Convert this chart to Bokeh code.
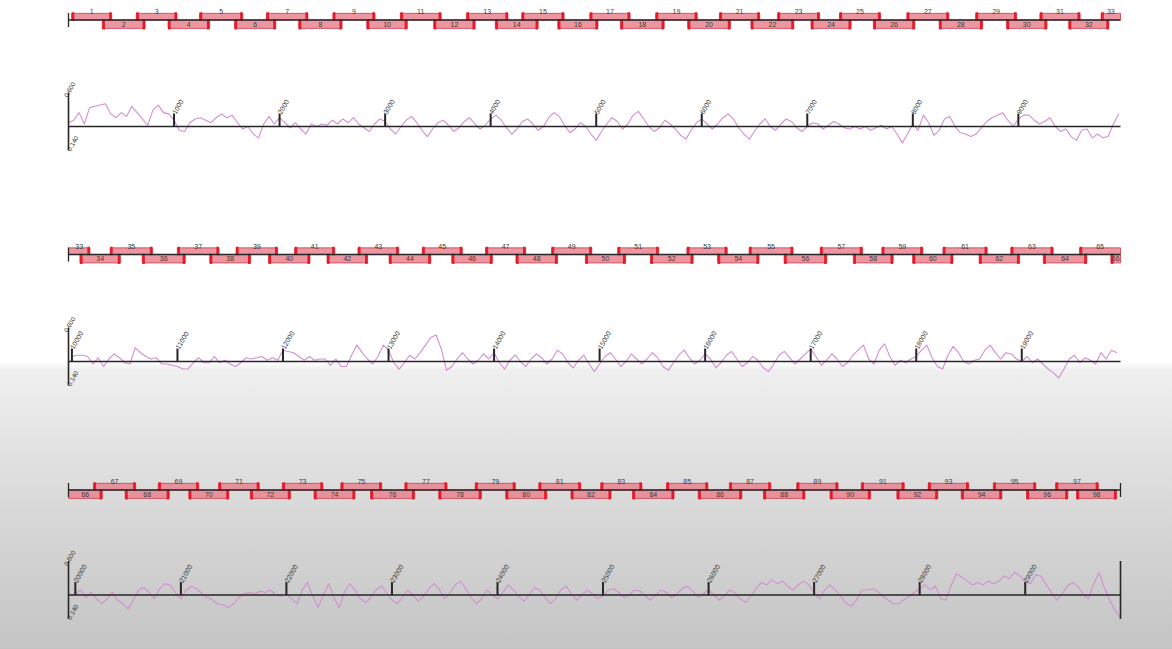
import math
from bokeh.plotting import figure
from bokeh.models import Range1d
from bokeh.core.properties import value
from bokeh.embed import file_html
from bokeh.resources import INLINE

# ---------------- data ----------------
GENOME_LENGTH = 29903
N_ROWS = 3
AMPLICON_ID = list(range(1, 99))
AMPLICON_START = [30, 320, 642, 943, 1242, 1573, 1875, 2181, 2505, 2826,
                  3144, 3460, 3771, 4044, 4294, 4636, 4939, 5230, 5563, 5867,
                  6167, 6466, 6718, 7035, 7305, 7626, 7943, 8249, 8595, 8888,
                  9204, 9477, 9784, 10076, 10362, 10666, 10999, 11306, 11555, 11863,
                  12110, 12417, 12710, 13005, 13319, 13599, 13919, 14207, 14545, 14865,
                  15171, 15481, 15827, 16118, 16416, 16748, 17090, 17404, 17674, 17966,
                  18253, 18596, 18896, 19204, 19548, 19844, 20172, 20472, 20786, 21075,
                  21357, 21658, 21961, 22262, 22516, 22797, 23122, 23443, 23789, 24078,
                  24391, 24696, 24978, 25279, 25601, 25902, 26197, 26520, 26835, 27151,
                  27447, 27784, 28081, 28394, 28698, 29012, 29288, 29486]
AMPLICON_END = [410, 726, 1028, 1337, 1651, 1964, 2269, 2592, 2904, 3210,
                3531, 3853, 4164, 4450, 4696, 5017, 5321, 5644, 5957, 6272,
                6550, 6873, 7117, 7415, 7694, 8019, 8341, 8661, 8983, 9271,
                9585, 9858, 10171, 10459, 10763, 11074, 11394, 11693, 11949, 12256,
                12490, 12802, 13096, 13400, 13699, 13984, 14299, 14601, 14926, 15246,
                15560, 15886, 16209, 16510, 16833, 17152, 17490, 17781, 18062, 18348,
                18672, 18979, 19297, 19616, 19939, 20255, 20572, 20890, 21169, 21455,
                21743, 22038, 22346, 22650, 22903, 23214, 23522, 23847, 24169, 24467,
                24789, 25076, 25369, 25673, 25994, 26315, 26590, 26913, 27227, 27534,
                27854, 28172, 28464, 28779, 29101, 29404, 29693, 29866]
PRIMER_LENGTH = 25
POSITION_TICKS = list(range(1000, 30000, 1000))
GC_AXIS_TOP, GC_AXIS_BOTTOM = 0.60, 0.14
GC_AXIS_TOP_LABEL, GC_AXIS_BOTTOM_LABEL = "0.600", "0.140"
GC_BASELINE = 0.33
GC_STEP = 50
GC_VALUES = [
    # row 1: 0 - 9950
    0.36, 0.38, 0.44, 0.35, 0.48, 0.49, 0.50, 0.51, 0.43, 0.40,
    0.44, 0.41, 0.49, 0.44, 0.39, 0.34, 0.46, 0.50, 0.44, 0.43,
    0.38, 0.30, 0.29, 0.36, 0.39, 0.40, 0.38, 0.36, 0.40, 0.43,
    0.40, 0.42, 0.36, 0.31, 0.33, 0.27, 0.24, 0.35, 0.41, 0.35,
    0.40, 0.36, 0.32, 0.36, 0.31, 0.27, 0.35, 0.33, 0.35, 0.34,
    0.38, 0.35, 0.39, 0.36, 0.40, 0.35,
    0.32, 0.29, 0.35, 0.39, 0.37, 0.31, 0.27, 0.33, 0.38, 0.41,
    0.36, 0.30, 0.25, 0.31, 0.36, 0.38, 0.34, 0.29, 0.32, 0.37,
    0.40, 0.35, 0.31, 0.34, 0.39, 0.42, 0.38, 0.32, 0.27, 0.31,
    0.37, 0.39, 0.35, 0.30, 0.33, 0.40, 0.44, 0.41, 0.34, 0.28,
    0.31, 0.36, 0.33, 0.27, 0.22, 0.29, 0.35, 0.40, 0.37, 0.31,
    0.35, 0.42, 0.45, 0.39, 0.33, 0.29, 0.32, 0.38, 0.35, 0.31,
    0.26, 0.23, 0.30, 0.36, 0.39, 0.35, 0.31, 0.35, 0.40, 0.43,
    0.39, 0.32, 0.27, 0.23, 0.29, 0.35, 0.39, 0.33, 0.30, 0.35,
    0.39, 0.37, 0.32, 0.29, 0.33, 0.36, 0.35, 0.31, 0.34, 0.37,
    0.35, 0.32, 0.31, 0.33,
    0.31, 0.33, 0.30, 0.32, 0.34, 0.31, 0.33, 0.27, 0.20, 0.27,
    0.35, 0.30, 0.42, 0.36, 0.26, 0.30, 0.39, 0.41, 0.33, 0.28,
    0.27, 0.25, 0.27, 0.32, 0.37, 0.40, 0.42, 0.44, 0.38, 0.33,
    0.39, 0.42, 0.42, 0.38, 0.35, 0.37, 0.40, 0.33, 0.29, 0.31,
    0.25, 0.22, 0.30, 0.31, 0.24, 0.27, 0.24, 0.25, 0.35, 0.43,
    # row 2: 10000 - 19900
    0.37, 0.38, 0.38, 0.37, 0.31, 0.36, 0.29, 0.35, 0.39, 0.36,
    0.32, 0.31, 0.44, 0.40, 0.37, 0.35, 0.36, 0.31, 0.31, 0.30,
    0.29, 0.27, 0.27, 0.32, 0.36, 0.32, 0.32, 0.37, 0.32, 0.34,
    0.31, 0.29, 0.32, 0.36, 0.35, 0.36, 0.37, 0.34, 0.36, 0.34,
    0.42, 0.41, 0.40, 0.37, 0.34, 0.37, 0.34, 0.35, 0.35, 0.30,
    0.35, 0.29, 0.29, 0.38, 0.46,
    0.40, 0.35, 0.31, 0.37, 0.46, 0.42, 0.32, 0.27, 0.32, 0.38,
    0.35, 0.40, 0.46, 0.52, 0.54, 0.43, 0.26, 0.29, 0.35, 0.40,
    0.35, 0.31, 0.34, 0.39, 0.35, 0.40, 0.32, 0.27, 0.34, 0.38,
    0.33, 0.29, 0.35, 0.39, 0.36, 0.31, 0.35, 0.42, 0.39, 0.32,
    0.28, 0.34, 0.38, 0.31, 0.25, 0.31, 0.37, 0.40, 0.35, 0.29,
    0.33, 0.39, 0.35, 0.31, 0.35, 0.40, 0.36, 0.29, 0.26, 0.32,
    0.38, 0.42, 0.36, 0.31, 0.34, 0.39, 0.35, 0.28, 0.32, 0.38,
    0.41, 0.35, 0.29, 0.32, 0.37, 0.34, 0.28, 0.25, 0.31, 0.38,
    0.41, 0.36, 0.31, 0.35, 0.39, 0.43, 0.37, 0.30, 0.34, 0.39,
    0.35, 0.29, 0.32, 0.38, 0.42,
    0.46, 0.35, 0.31, 0.42, 0.47, 0.37, 0.30, 0.34, 0.32, 0.35,
    0.37, 0.42, 0.46, 0.36, 0.29, 0.27, 0.38, 0.45, 0.40, 0.33,
    0.31, 0.34, 0.35, 0.42, 0.46, 0.40, 0.35, 0.40, 0.39, 0.35,
    0.33, 0.37, 0.32, 0.35, 0.31, 0.27, 0.24, 0.20, 0.27, 0.35,
    0.38, 0.32, 0.36, 0.34, 0.31, 0.40, 0.35, 0.42, 0.40,
    # row 3: 19950 - 29900
    0.33, 0.34, 0.37, 0.31, 0.35, 0.30, 0.26, 0.30, 0.35, 0.29,
    0.26, 0.22, 0.29, 0.37, 0.39, 0.35, 0.30, 0.38, 0.42, 0.41,
    0.35, 0.30, 0.37, 0.40, 0.38, 0.34, 0.31, 0.29, 0.26, 0.25,
    0.23, 0.26, 0.31, 0.34, 0.35, 0.34, 0.36, 0.35, 0.37, 0.33,
    0.32, 0.34, 0.30, 0.26, 0.37, 0.43, 0.32, 0.23, 0.33, 0.42,
    0.31, 0.23, 0.35, 0.42, 0.37, 0.30,
    0.27, 0.31, 0.37, 0.40, 0.35, 0.29, 0.26, 0.31, 0.37, 0.33,
    0.28, 0.32, 0.38, 0.42, 0.37, 0.30, 0.35, 0.41, 0.44, 0.38,
    0.31, 0.26, 0.30, 0.37, 0.33, 0.30, 0.35, 0.41, 0.37, 0.32,
    0.28, 0.33, 0.39, 0.37, 0.31, 0.26, 0.30, 0.37, 0.40, 0.34,
    0.29, 0.33, 0.37, 0.34, 0.30, 0.32, 0.37, 0.38, 0.35, 0.31,
    0.33, 0.37, 0.36, 0.32, 0.29, 0.33, 0.37, 0.35, 0.31, 0.34,
    0.38, 0.40, 0.36, 0.31, 0.34, 0.37, 0.33, 0.29, 0.32, 0.37,
    0.35, 0.30, 0.27, 0.32, 0.38, 0.43, 0.41, 0.45, 0.42, 0.44,
    0.40, 0.37, 0.41, 0.44, 0.41, 0.35, 0.30, 0.37, 0.41, 0.37,
    0.32, 0.27, 0.24, 0.29,
    0.37, 0.37, 0.38, 0.36, 0.32, 0.29, 0.26, 0.26, 0.29, 0.32,
    0.35, 0.38, 0.41, 0.37, 0.40, 0.30, 0.29, 0.41, 0.50, 0.47,
    0.44, 0.41, 0.43, 0.41, 0.44, 0.42, 0.44, 0.48, 0.46, 0.51,
    0.48, 0.44, 0.42, 0.49, 0.48, 0.41, 0.35, 0.29, 0.34, 0.40,
    0.43, 0.40, 0.33, 0.30, 0.42, 0.51, 0.39, 0.29, 0.21, 0.15,
]

# ---------------- layout constants ----------------
W, H = 1172, 649
ROW_LEN = GENOME_LENGTH / N_ROWS
LEFT_PX = 68
PX_PER_BP = 1052 / ROW_LEN
AMP_CENTER_PX = [19.5, 254.0, 489.5]
BASE_PX = [126.0, 361.0, 594.5]
BOX_PX = 7.0
GC_PX = 126.0
TICK_H = 13.0 / GC_PX
MIN_VISIBLE_BP = 40

AMP_FILL = "#e8848f"
AMP_LINE = "#d83a4a"
PRIMER = "#e3101f"
AXIS = "#262626"
GC_LINE = "#d38fd0"
TXT = "#3c3c3c"
FONT = value("Liberation Sans")

p = figure(width=W, height=H, output_backend="svg", toolbar_location=None,
           x_axis_type=None, y_axis_type=None,
           x_range=Range1d(0, W), y_range=Range1d(0, H), min_border=0)
p.grid.visible = False
p.outline_line_color = None
p.background_fill_alpha = 0
p.border_fill_alpha = 0
p.styles = {"background": "linear-gradient(to bottom, #ffffff 0px, #ffffff 362px, "
                          "#efefef 370px, #dadada 500px, #c4c4c4 649px)"}

for r in range(N_ROWS):
    x0 = r * ROW_LEN
    x1 = min(GENOME_LENGTH, x0 + ROW_LEN)
    xr, ar, gr = f"x{r}", f"a{r}", f"g{r}"
    p.extra_x_ranges[xr] = Range1d(x0 - LEFT_PX / PX_PER_BP, x0 + (W - LEFT_PX) / PX_PER_BP)
    c = AMP_CENTER_PX[r]
    p.extra_y_ranges[ar] = Range1d(-(H - c) / BOX_PX, c / BOX_PX)
    b = BASE_PX[r]
    p.extra_y_ranges[gr] = Range1d(GC_BASELINE - (H - b) / GC_PX, GC_BASELINE + b / GC_PX)

    # amplicons
    L, R, T, B, lx, ly, lt = [], [], [], [], [], [], []
    pl, pr, pt, pb = [], [], [], []
    for aid, s, e in zip(AMPLICON_ID, AMPLICON_START, AMPLICON_END):
        left, right = max(s, x0), min(e, x1)
        if right - left < MIN_VISIBLE_BP:
            continue
        top = aid % 2 == 1
        L.append(left); R.append(right)
        T.append(0.95 if top else 0.0); B.append(0.0 if top else -1.2)
        lx.append((left + right) / 2); ly.append(1.2 if top else -0.6); lt.append(str(aid))
        for ps, pe in ((s, s + PRIMER_LENGTH), (e - PRIMER_LENGTH, e)):
            if ps >= x0 and pe <= x1:
                pl.append(ps); pr.append(pe)
                pt.append(1.1 if top else 0.1); pb.append(-0.1 if top else -1.35)
    p.quad(left=L, right=R, top=T, bottom=B, fill_color=AMP_FILL, fill_alpha=0.85,
           line_color=AMP_LINE, line_width=0.8, x_range_name=xr, y_range_name=ar)
    p.quad(left=pl, right=pr, top=pt, bottom=pb, fill_color=PRIMER, fill_alpha=0.9,
           line_color=None, x_range_name=xr, y_range_name=ar)
    p.segment(x0=[x0], y0=[0], x1=[x1], y1=[0], line_color=AXIS, line_width=1.3,
              x_range_name=xr, y_range_name=ar)
    ends = [x0] + ([x1] if x1 >= GENOME_LENGTH else [])
    p.segment(x0=ends, y0=[-1.0] * len(ends), x1=ends, y1=[1.0] * len(ends),
              line_color=AXIS, line_width=1.3, x_range_name=xr, y_range_name=ar)
    p.text(x=lx, y=ly, text=lt, text_font=FONT, text_font_size="7px", text_color=TXT,
           text_align="center", text_baseline="middle", x_range_name=xr, y_range_name=ar)

    # GC content line
    gx, gy = [], []
    for i, v in enumerate(GC_VALUES):
        pos = i * GC_STEP
        if x0 <= pos <= x1:
            gx.append(pos); gy.append(v)
    p.line(gx, gy, line_color=GC_LINE, line_width=1.1, line_join="round",
           x_range_name=xr, y_range_name=gr)
    p.segment(x0=[x0], y0=[GC_BASELINE], x1=[x1], y1=[GC_BASELINE], line_color=AXIS,
              line_width=1.6, x_range_name=xr, y_range_name=gr)
    axes_x = [x0] + ([x1] if x1 >= GENOME_LENGTH else [])
    p.segment(x0=axes_x, y0=[GC_AXIS_BOTTOM] * len(axes_x), x1=axes_x,
              y1=[GC_AXIS_TOP] * len(axes_x), line_color=AXIS, line_width=1.6,
              x_range_name=xr, y_range_name=gr)
    p.text(x=[x0], y=[GC_AXIS_TOP], text=[GC_AXIS_TOP_LABEL], angle=math.pi / 3,
           text_font=FONT, text_font_size="6.5px", text_color=TXT, text_align="center",
           text_baseline="middle", y_offset=-3, x_offset=1,
           x_range_name=xr, y_range_name=gr)
    p.text(x=[x0], y=[GC_AXIS_BOTTOM], text=[GC_AXIS_BOTTOM_LABEL], angle=math.pi / 3,
           text_font=FONT, text_font_size="6.5px", text_color=TXT, text_align="left",
           text_baseline="middle", x_range_name=xr, y_range_name=gr)
    tk = [t for t in POSITION_TICKS if x0 <= t <= x1]
    p.segment(x0=tk, y0=[GC_BASELINE] * len(tk), x1=tk, y1=[GC_BASELINE + TICK_H] * len(tk),
              line_color=AXIS, line_width=2, x_range_name=xr, y_range_name=gr)
    p.text(x=tk, y=[GC_BASELINE + TICK_H] * len(tk), text=[str(t) for t in tk],
           angle=math.pi / 3, text_font=FONT, text_font_size="7px", text_color=TXT,
           text_align="left", text_baseline="middle", x_range_name=xr, y_range_name=gr)

open("out.html", "w").write(file_html(p, INLINE))
